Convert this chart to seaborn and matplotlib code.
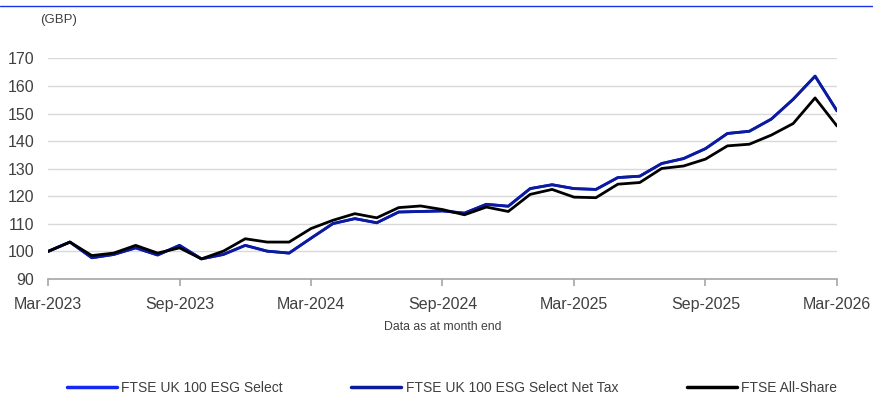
import matplotlib
matplotlib.use("Agg")
import matplotlib.pyplot as plt
from matplotlib.lines import Line2D
import numpy as np
import pandas as pd
import seaborn as sns

# Monthly index levels rebased to 100 at Mar-2023
months = pd.period_range("2023-03", "2026-03", freq="M").strftime("%b-%Y").tolist()

esg_select = [100.0, 103.4, 97.7, 98.9, 101.3, 98.7, 102.2, 97.3, 98.9, 102.2, 100.1, 99.4,
              104.8, 110.1, 111.9, 110.4, 114.3, 114.5, 114.7, 113.9, 117.1, 116.4, 122.8, 124.2,
              122.8, 122.5, 126.8, 127.3, 131.9, 133.7, 137.3, 142.8, 143.6, 148.0, 155.2, 163.6,
              151.0]
esg_select_net_tax = [100.0, 103.4, 97.7, 98.9, 101.3, 98.7, 102.2, 97.3, 98.9, 102.2, 100.1, 99.4,
                      104.8, 110.1, 111.9, 110.4, 114.3, 114.5, 114.7, 113.9, 117.1, 116.4, 122.8, 124.2,
                      122.8, 122.5, 126.8, 127.3, 131.9, 133.7, 137.3, 142.8, 143.6, 148.0, 155.2, 163.6,
                      151.0]
all_share = [100.0, 103.4, 98.5, 99.4, 102.2, 99.4, 101.3, 97.3, 100.1, 104.6, 103.4, 103.4,
             108.3, 111.3, 113.7, 112.2, 115.9, 116.5, 115.2, 113.3, 116.1, 114.5, 120.7, 122.5,
             119.7, 119.5, 124.4, 125.0, 130.1, 131.0, 133.5, 138.3, 138.9, 142.2, 146.4, 155.7,
             145.5]

series_names = ["FTSE UK 100 ESG Select", "FTSE UK 100 ESG Select Net Tax", "FTSE All-Share"]
series_colors = ["#1428f0", "#0c1a9c", "#000000"]
y_ticks = [90, 100, 110, 120, 130, 140, 150, 160, 170]

sns.set_theme(style="white")
plt.rcParams["font.family"] = ["Liberation Sans", "DejaVu Sans"]

df = pd.DataFrame({
    "idx": np.arange(len(months)),
    series_names[0]: esg_select,
    series_names[1]: esg_select_net_tax,
    series_names[2]: all_share,
})
long_df = df.melt(id_vars="idx", var_name="series", value_name="value")

fig = plt.figure(figsize=(8.73, 3.94), dpi=100)
ax = fig.add_axes([48 / 873, 1 - 279 / 394, (837 - 48) / 873, (279 - 58.5) / 394])

sns.lineplot(data=long_df, x="idx", y="value", hue="series", hue_order=series_names,
             palette=dict(zip(series_names, series_colors)), linewidth=2.0, ax=ax,
             legend=False)

ax.set_xlim(0, len(months) - 1)
ax.set_ylim(90, 170)
ax.set_yticks(y_ticks)
ax.set_yticklabels([str(v) for v in y_ticks])
ax.yaxis.grid(True, color="#d9d9d9", linewidth=1.0)
ax.set_axisbelow(True)

xt = list(range(0, len(months), 6))
ax.set_xticks(xt)
ax.set_xticklabels([months[i] for i in xt])
ax.set_xlabel("")
ax.set_ylabel("")

for s in ["top", "right", "left"]:
    ax.spines[s].set_visible(False)
ax.spines["bottom"].set_color("#a6a6a6")
ax.spines["bottom"].set_linewidth(1.2)
ax.spines["bottom"].set_zorder(3)

ax.tick_params(axis="x", bottom=True, length=5, width=1.2, color="#a6a6a6",
               labelsize=11.5, labelcolor="#404040", pad=8)
ax.tick_params(axis="y", left=False, length=0, labelsize=11.5, labelcolor="#404040", pad=10)

fig.text(40 / 873, 1 - 20 / 394, "(GBP)", fontsize=9.5, color="#404040", va="center", ha="left")
fig.text(443 / 873, 1 - 327 / 394, "Data as at month end", fontsize=8.8, color="#404040",
         va="center", ha="center")

# thin rule across the top
fig.add_artist(Line2D([0, 1], [1 - 6 / 394, 1 - 6 / 394], color="#1a33e6", linewidth=1.0,
                      transform=fig.transFigure))

handles = [Line2D([0], [0], color=c, linewidth=2.5) for c in series_colors]
fig.legend(handles, series_names, loc="center", bbox_to_anchor=(452 / 873, 1 - 388 / 394),
           ncol=3, frameon=False, fontsize=10, handlelength=3.6, handletextpad=0.35,
           columnspacing=4.9, labelcolor="#404040")

fig.savefig("out.png", dpi=100)
